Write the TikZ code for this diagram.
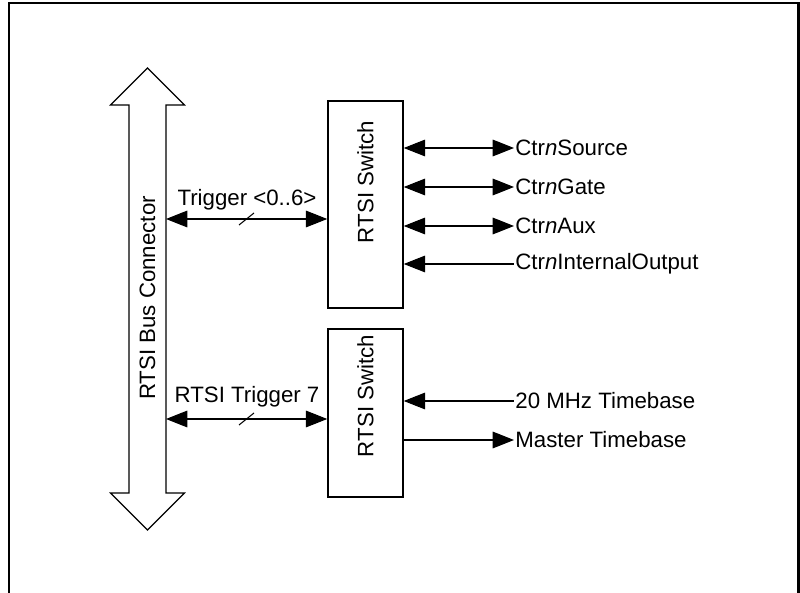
\documentclass[tikz,border=0pt]{standalone}
\usepackage{fontspec}
\setmainfont{Liberation Sans}
\usepackage{tikz}
\usetikzlibrary{arrows.meta}

\begin{document}
\begin{tikzpicture}[x=0.03cm, y=-0.03cm,
      every node/.style={font=\fontsize{19}{23}\selectfont},
      switch/.style={rectangle, draw, line width=1.3pt, minimum width=2.25cm},
      lbl/.style={inner sep=1pt},
      biarr/.style={{Triangle[length=6.4mm, width=5mm]}-{Triangle[length=6.4mm, width=5mm]}, line width=0.9pt},
      inarr/.style={{Triangle[length=6.4mm, width=5mm]}-, line width=0.9pt},
      outarr/.style={-{Triangle[length=6.4mm, width=5mm]}, line width=0.9pt},
      busline/.style={draw, line width=1pt, line join=miter}
    ]
      \useasboundingbox (0,0) rectangle (800,593);
      % frame
      \draw[line width=2.5pt] (9,593) -- (9,3) -- (798.5,3) -- (798.5,593);
      % bus connector
      \draw[busline] (129,105) -- (110.5,105) -- (147.5,68) -- (184.5,105) -- (166,105)
        -- (166,493) -- (184.5,493) -- (147.5,530) -- (110.5,493) -- (129,493) -- cycle;
      \node[rotate=90] (bus) at (147.5,298) {RTSI Bus Connector};
      \coordinate (trigA) at (166,219);
      \coordinate (trigB) at (166,419);
      % switches
      \node[switch, minimum height=6.21cm] (sw1) at (365.5,204.5) {};
      \node[rotate=90] (sw1lbl) at (365.5,182) {RTSI Switch};
      \node[switch, minimum height=5.04cm] (sw2) at (365.5,413) {};
      \node[rotate=90] (sw2lbl) at (365.5,396) {RTSI Switch};
      % bus to switches
      \node[lbl] (trig) at (247,200) {Trigger <0..6>};
      \draw[biarr] (trigA) -- (sw1.west |- trigA);
      \draw[line width=0.9pt] (239,225) -- (254,213);
      \node[lbl] (trig7) at (247,397) {RTSI Trigger 7};
      \draw[biarr] (trigB) -- (sw2.west |- trigB);
      \draw[line width=0.9pt] (239,425) -- (254,413);
      % counter signals
      \node[lbl, anchor=west] (src) at (514,148) {Ctr\textit{n}Source};
      \node[lbl, anchor=west] (gate) at (514,187) {Ctr\textit{n}Gate};
      \node[lbl, anchor=west] (aux) at (514,226) {Ctr\textit{n}Aux};
      \node[lbl, anchor=west] (intout) at (514,264) {Ctr\textit{n}InternalOutput};
      \draw[biarr] (sw1.east |- src) -- (src.west);
      \draw[biarr] (sw1.east |- gate) -- (gate.west);
      \draw[biarr] (sw1.east |- aux) -- (aux.west);
      \draw[inarr] (sw1.east |- intout) -- (intout.west);
      % timebases
      \node[lbl, anchor=west] (tb20) at (514,401) {20 MHz Timebase};
      \node[lbl, anchor=west] (mtb) at (514,440) {Master Timebase};
      \draw[inarr] (sw2.east |- tb20) -- (tb20.west);
      \draw[outarr] (sw2.east |- mtb) -- (mtb.west);
    \end{tikzpicture}
\end{document}
